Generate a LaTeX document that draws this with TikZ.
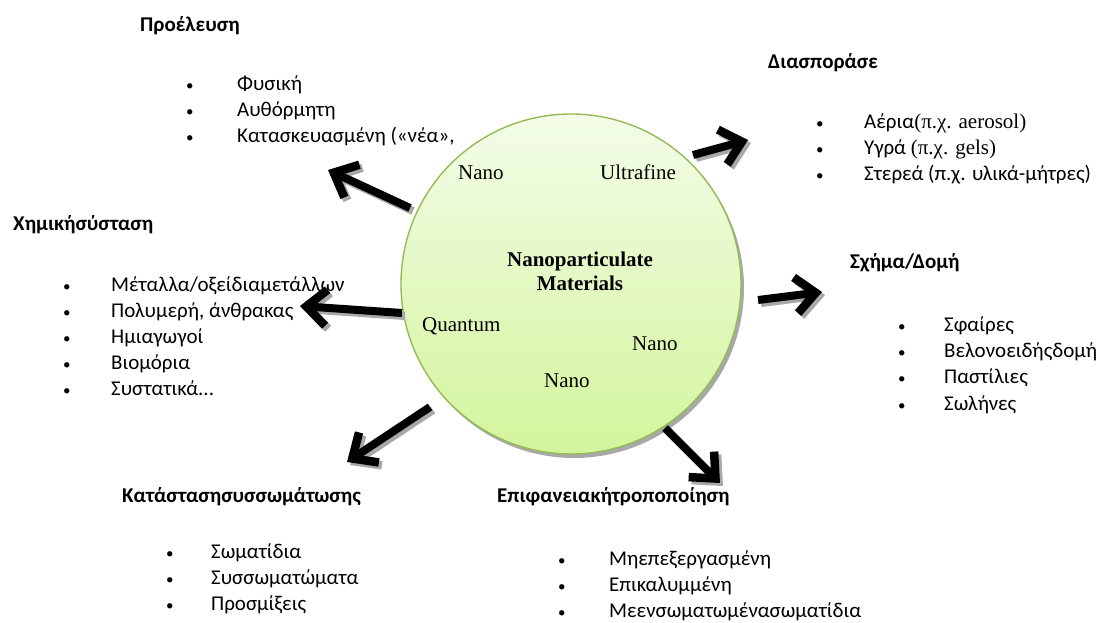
\documentclass[tikz,border=0pt]{standalone}
\usepackage{fontspec}
\setmainfont{Carlito}
\newfontfamily\tnr{Liberation Serif}
\usetikzlibrary{arrows.meta}
\definecolor{circtop}{HTML}{F3FCE8}
\definecolor{circbot}{HTML}{D3F59C}
\definecolor{circline}{HTML}{94BB55}
\definecolor{shadowgray}{HTML}{A8A8A8}
\newcommand\blist[2]{\begin{tabular}[t]{@{}l@{\hspace{#1}}l@{}}#2\end{tabular}}
\newcommand\bul{{\fontsize{15}{26}\selectfont •}}
\begin{document}
\begin{tikzpicture}[x=1pt,y=1pt,
  heading/.style={font=\fontsize{21}{26}\selectfont\bfseries, anchor=base west, inner sep=0},
  listbox/.style={font=\fontsize{21}{26}\selectfont, anchor=base west, inner sep=0},
  intext/.style={font=\fontsize{21}{26}\selectfont\tnr, anchor=base west, inner sep=0},
  centertext/.style={font=\fontsize{21}{24}\selectfont\tnr\bfseries, anchor=base, inner sep=0},
  bigarrow/.style={line width=8pt, -{Straight Barb[length=20pt,width=36pt,line width=8.5pt]}},
  arrowshadow/.style={bigarrow, draw=shadowgray, transform canvas={xshift=3pt,yshift=-3pt}}
]
\useasboundingbox (0,0) rectangle (1106,622);

% circle
\coordinate (cc) at (571,338);
\fill[shadowgray] ([xshift=3pt,yshift=-4pt]cc) circle (170);
\node[circle, minimum size=340pt, inner sep=0, draw=circline, line width=1.4pt,
      top color=circtop, bottom color=circbot] (c) at (cc) {};

% circle texts
\node[centertext] (t1) at (580,355) {Nanoparticulate};
\node[centertext] (t2) at (580,331) {Materials};
\node[intext] (n1) at (458,442) {Nano};
\node[intext] (n2) at (600,442) {Ultrafine};
\node[intext] (n3) at (422,290) {Quantum};
\node[intext] (n4) at (632,271) {Nano};
\node[intext] (n5) at (544,234) {Nano};

% arrow ends
\coordinate (a1) at (410,414); \coordinate (b1) at (328,452);
\coordinate (a2) at (693,467); \coordinate (b2) at (748,482);
\coordinate (a3) at (402,309); \coordinate (b3) at (300,316);
\coordinate (a4) at (758,322); \coordinate (b4) at (822,330);
\coordinate (a5) at (430,215); \coordinate (b5) at (347,160);
\coordinate (a6) at (665,194); \coordinate (b6) at (720,139);
\foreach \i in {1,...,6}{
  \draw[arrowshadow] (a\i) -- (b\i);
}
\foreach \i in {1,...,6}{
  \draw[bigarrow] (a\i) -- (b\i);
}

% headings
\node[heading] (h1) at (140,590) {Προέλευση};
\node[heading] (h2) at (13,391) {Χημικήσύσταση};
\node[heading] (h3) at (768,553) {Διασποράσε};
\node[heading] (h4) at (850,353) {Σχήμα/Δομή};
\node[heading] (h5) at (122,120) {Κατάστασησυσσωμάτωσης};
\node[heading] (h6) at (497,120) {Επιφανειακήτροποποίηση};

% lists
\node[listbox] (l1) at (186,531) {\blist{43.5pt}{\bul&Φυσική\\\bul&Αυθόρμητη\\\bul&Κατασκευασμένη («νέα»,}};
\node[listbox] (l2) at (63,330) {\blist{40.5pt}{\bul&Μέταλλα/οξείδιαμετάλλων\\\bul&Πολυμερή, άνθρακας\\\bul&Ημιαγωγοί\\\bul&Βιομόρια\\\bul&Συστατικά...}};
\node[listbox] (l3) at (816,493) {\blist{40.5pt}{\bul&Αέρια{\tnr(π.χ. aerosol)}\\\bul&Υγρά {\tnr(π.χ. gels)}\\\bul&Στερεά (π.χ. υλικά-μήτρες)}};
\node[listbox] (l4) at (898,290) {\blist{38.5pt}{\bul&Σφαίρες\\\bul&Βελονοειδήςδομή\\\bul&Παστίλιες\\\bul&Σωλήνες}};
\node[listbox] (l5) at (166,64) {\blist{37.5pt}{\bul&Σωματίδια\\\bul&Συσσωματώματα\\\bul&Προσμίξεις}};
\node[listbox] (l6) at (558,57) {\blist{43.5pt}{\bul&Μηεπεξεργασμένη\\\bul&Επικαλυμμένη\\\bul&Μεενσωματωμένασωματίδια}};
\end{tikzpicture}
\end{document}
